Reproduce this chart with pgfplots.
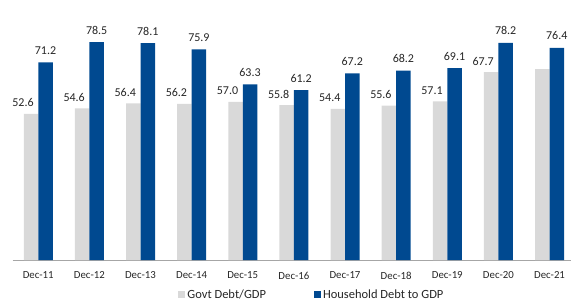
\documentclass[border=0pt]{standalone}
\usepackage{pgfplots}
\pgfplotsset{compat=1.18}
\usepackage{pgfplotstable}
\usepackage{fontspec}
\setmainfont{Carlito}
\definecolor{govgray}{RGB}{217,217,217}
\definecolor{hhblue}{RGB}{0,73,144}
\definecolor{axgray}{RGB}{166,166,166}
\definecolor{txt}{RGB}{38,38,38}
\pgfplotstableread{
x val lab
0 52.6 52.6
1 54.6 54.6
2 56.4 56.4
3 56.2 56.2
4 57.0 57.0
5 55.8 55.8
6 54.4 54.4
7 55.6 55.6
8 57.1 57.1
9 67.7 67.7
10 68.8 {}
}\govt
\pgfplotstableread{
x val lab
0 71.2 71.2
1 78.5 78.5
2 78.1 78.1
3 75.9 75.9
4 63.3 63.3
5 61.2 61.2
6 67.2 67.2
7 68.2 68.2
8 69.1 69.1
9 78.2 78.2
10 76.4 76.4
}\house
\begin{document}
\begin{tikzpicture}
\path[use as bounding box] (0,0) rectangle (571bp,305bp);
\begin{axis}[
  at={(12.7bp,45bp)}, anchor=south west,
  scale only axis, width=558.3bp, height=260bp,
  xmin=-0.5, xmax=10.42, ymin=0, ymax=93.66,
  axis x line*=bottom, axis y line=none,
  x axis line style={axgray, line width=0.8pt},
  xtick={0,...,10},
  xticklabels={Dec-11,Dec-12,Dec-13,Dec-14,Dec-15,Dec-16,Dec-17,Dec-18,Dec-19,Dec-20,Dec-21},
  major x tick style={draw=none},
  extra x ticks={-0.5,0.5,1.5,2.5,3.5,4.5,5.5,6.5,7.5,8.5,9.5},
  extra x tick labels={},
  extra x tick style={tick style={draw=axgray, line width=0.8pt}, major tick length=4bp, tick align=outside},
  ticklabel style={font=\fontsize{10.8bp}{12bp}\selectfont, text=txt},
  xticklabel style={yshift=-4bp},
  ybar, bar width=14.5bp,
  clip=false,
  nodes near coords={\pgfplotspointmeta},
  point meta=explicit symbolic,
  every node near coord/.append style={anchor=base, font=\fontsize{12bp}{13bp}\selectfont, text=txt, inner sep=0pt},
  legend style={at={(0.536,-0.1346)}, anchor=center, draw=none, fill=none,
    legend columns=2, font=\fontsize{12.5bp}{14bp}\selectfont, text=txt,
    /tikz/every even column/.append style={column sep=46bp}},
  legend image code/.code={\fill[#1] (0bp,-3.5bp) rectangle (7bp,3.5bp);},
]
\addplot[fill=govgray, draw=none, bar shift=-7.25bp,
  every node near coord/.append style={xshift=-8bp, yshift=7bp}]
  table[x=x, y=val, meta=lab] {\govt};
\addplot[fill=hhblue, draw=none, bar shift=7.25bp,
  every node near coord/.append style={yshift=8bp}]
  table[x=x, y=val, meta=lab] {\house};
\legend{Govt Debt/GDP, Household Debt to GDP}
\end{axis}
\end{tikzpicture}
\end{document}
